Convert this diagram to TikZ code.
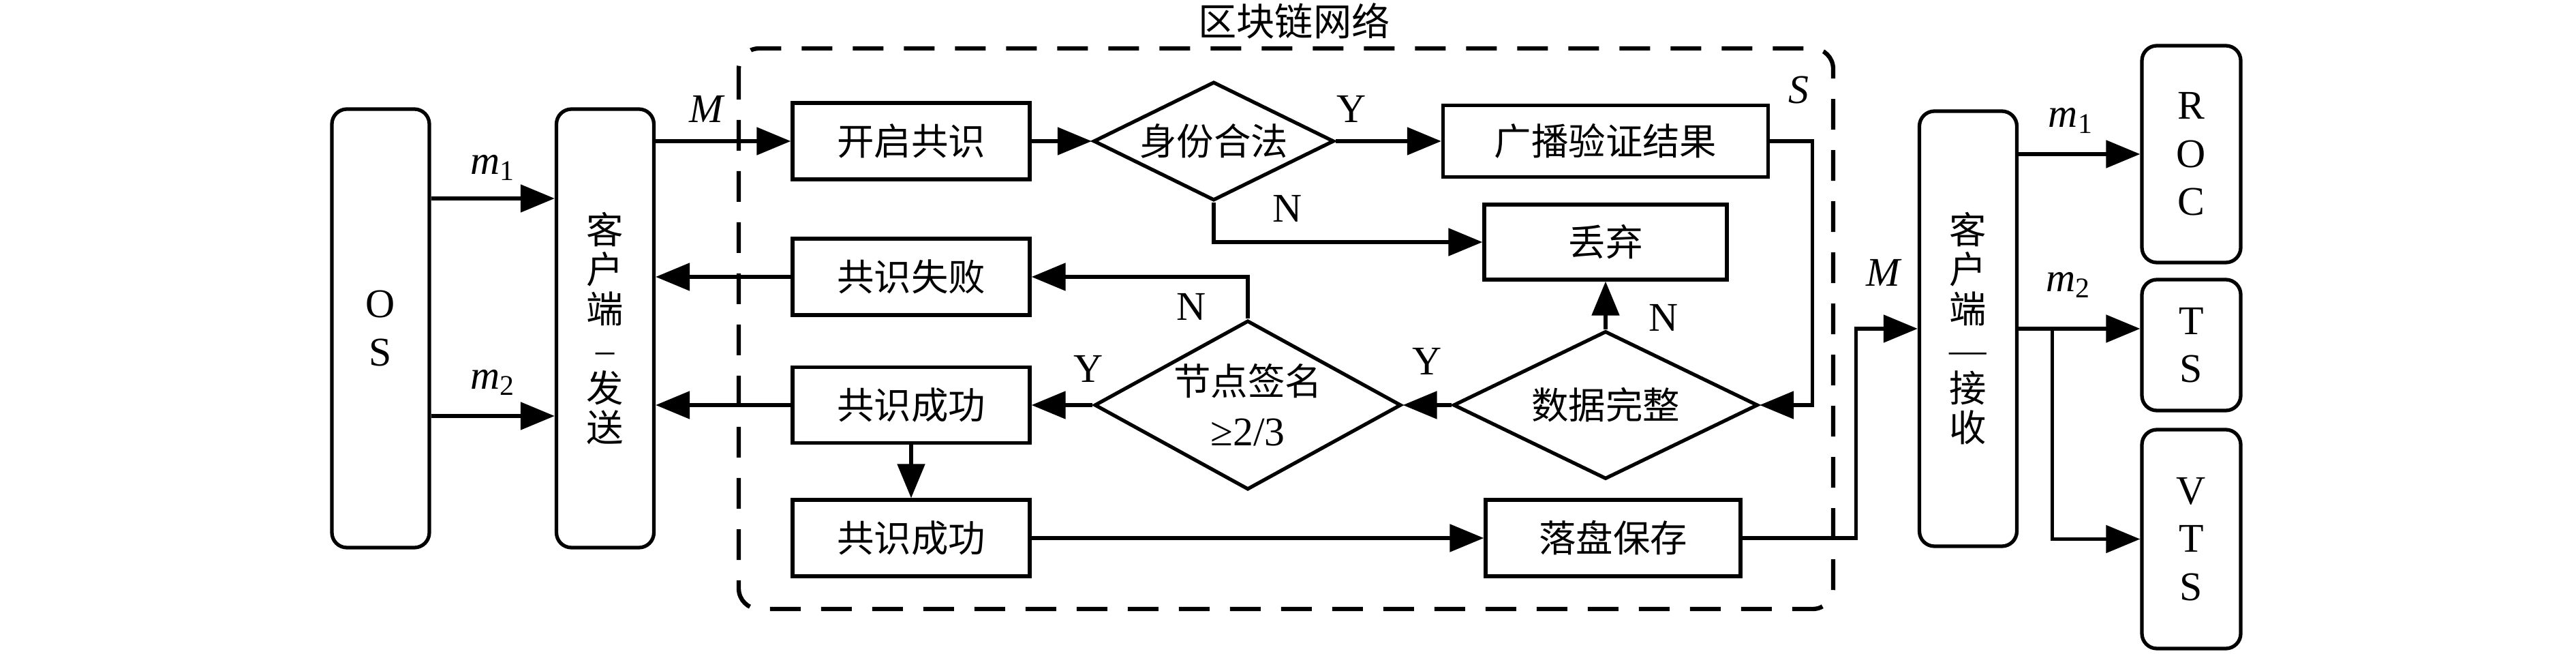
\documentclass[tikz,border=0pt]{standalone}
\usepackage{fontspec}
\setmainfont{Liberation Serif}
\newfontfamily\cjk{Noto Sans CJK SC}
\newfontfamily\lat{Liberation Serif}
\usetikzlibrary{shapes.geometric,arrows.meta}

\begin{document}
\begin{tikzpicture}[line width=1.5pt,
		box/.style={draw, minimum width=3.48cm, minimum height=1.12cm, inner sep=0pt, font=\cjk\fontsize{15.5}{18}\selectfont},
		cond/.style={draw, diamond, inner sep=0pt, align=center, font=\cjk\fontsize{15.5}{21}\selectfont},
		side/.style={draw, rounded corners=0.22cm, minimum width=1.43cm, inner sep=0pt, align=center},
		cn/.style={font=\cjk\fontsize{15.5}{16.5}\selectfont},
		en/.style={font=\fontsize{17}{20}\selectfont},
		arr/.style={-{Triangle[length=0.5cm,width=0.4cm]}},
		lbl/.style={font=\fontsize{17}{20}\selectfont, inner sep=0pt}]
	\useasboundingbox (0,0) rectangle (37.8,-9.59);
	% Blockchain network frame
	\draw[line width=1.8pt, dash pattern=on 0.45cm off 0.3cm, rounded corners=0.3cm] (10.84,-0.71) rectangle (26.90,-8.93);
	\node[font=\cjk\fontsize{16}{18}\selectfont] (net) at (18.99,-0.31) {区块链网络};
	% Clients and servers
	\node[side, en, minimum height=6.43cm] (os) at (5.585,-4.815) {O\\S};
	\node[side, cn, minimum height=6.43cm] (send) at (8.88,-4.815) {客\\户\\端\\{\lat\textendash}\\发\\送};
	\node[side, cn, minimum height=6.38cm] (recv) at (28.88,-4.82) {客\\户\\端\\{\lat\textemdash}\\接\\收};
	\node[side, en, minimum width=1.45cm, minimum height=3.18cm] (roc) at (32.155,-2.26) {R\\O\\C};
	\node[side, en, minimum width=1.45cm, minimum height=1.92cm] (ts) at (32.155,-5.06) {T\\S};
	\node[side, en, minimum width=1.45cm, minimum height=3.21cm] (vts) at (32.155,-7.905) {V\\T\\S};
	% Consensus steps
	\node[box] (kaiqi) at (13.37,-2.07) {开启共识};
	\node[box] (shibai) at (13.37,-4.06) {共识失败};
	\node[box, minimum height=1.11cm] (cg) at (13.37,-5.94) {共识成功};
	\node[box] (cg2) at (13.37,-7.89) {共识成功};
	\node[cond, shape aspect=2.03, minimum width=3.53cm, minimum height=1.74cm] (shenfen) at (17.81,-2.07) {身份合法};
	\node[box, minimum width=4.77cm, minimum height=1.05cm] (guangbo) at (23.56,-2.07) {广播验证结果};
	\node[box, minimum width=3.56cm, minimum height=1.10cm] (diuqi) at (23.56,-3.55) {丢弃};
	\node[cond, shape aspect=1.8, minimum width=4.5cm, minimum height=2.48cm] (qianming) at (18.31,-5.94) {节点签名\\{\lat\fontsize{17}{21}\selectfont ≥2/3}};
	\node[cond, shape aspect=2.06, minimum width=4.47cm, minimum height=2.17cm] (wanzheng) at (23.56,-5.94) {数据完整};
	\node[box, minimum width=3.74cm] (luopan) at (23.67,-7.89) {落盘保存};
	% Sending side
	\draw[arr] ([yshift=1.905cm]os.east) -- ([yshift=1.905cm]send.west) node[lbl, midway, above=0.24cm] (m1a) {\textit{m}\textsubscript{1}};
	\draw[arr] ([yshift=-1.285cm]os.east) -- ([yshift=-1.285cm]send.west) node[lbl, midway, above=0.28cm] (m2a) {\textit{m}\textsubscript{2}};
	\draw[arr] (send.east |- kaiqi.west) -- (kaiqi.west) node[lbl, pos=0.38, above=0.25cm] (ma) {\textit{M}};
	% Checks inside the network
	\draw[arr] (kaiqi.east) -- (shenfen.west);
	\draw[arr] (shenfen.east) -- (guangbo.west) node[lbl, pos=0.15, above=0.25cm] (y1) {Y};
	\draw[arr] (shenfen.south) |- (diuqi.west) node[lbl, pos=0.637, above=0.27cm] (n1) {N};
	\draw[arr] (guangbo.east) -- ([xshift=0.625cm]guangbo.east) |- (wanzheng.east);
	\node[lbl, anchor=south west] (s) at ([xshift=0.25cm,yshift=-0.03cm]guangbo.north east) {\textit{S}};
	\draw[arr] (wanzheng.north) -- (diuqi.south) node[lbl, pos=0.24, right=0.61cm] (n2) {N};
	\draw[arr] (wanzheng.west) -- (qianming.east) node[lbl, midway, above=0.42cm] (y2) {Y};
	\draw[arr] (qianming.north) |- (shibai.east) node[lbl, pos=0.145, left=0.59cm] (n3) {N};
	\draw[arr] (qianming.west) -- (cg.east) node[lbl, pos=0.07, above=0.31cm] (y3) {Y};
	\draw[arr] (shibai.west) -- (shibai.west -| send.east);
	\draw[arr] (cg.west) -- (cg.west -| send.east);
	\draw[arr] (cg.south) -- (cg2.north);
	\draw[arr] (cg2.east) -- (luopan.west);
	\draw[arr] (luopan.east) -- ([xshift=1.67cm]luopan.east) |- (recv.west) node[lbl, pos=0.73, above=0.6cm] (mb) {\textit{M}};
	% Receiving side
	\draw[arr] (recv.east |- roc.west) -- (roc.west) node[lbl, pos=0.43, above=0.28cm] (m1b) {\textit{m}\textsubscript{1}};
	\draw[arr] (recv.east) -- (recv.east -| ts.west) node[lbl, pos=0.41, above=0.43cm] (m2b) {\textit{m}\textsubscript{2}};
	\draw[arr] ([xshift=0.49cm]recv.east) |- (vts.west);
\end{tikzpicture}
\end{document}
